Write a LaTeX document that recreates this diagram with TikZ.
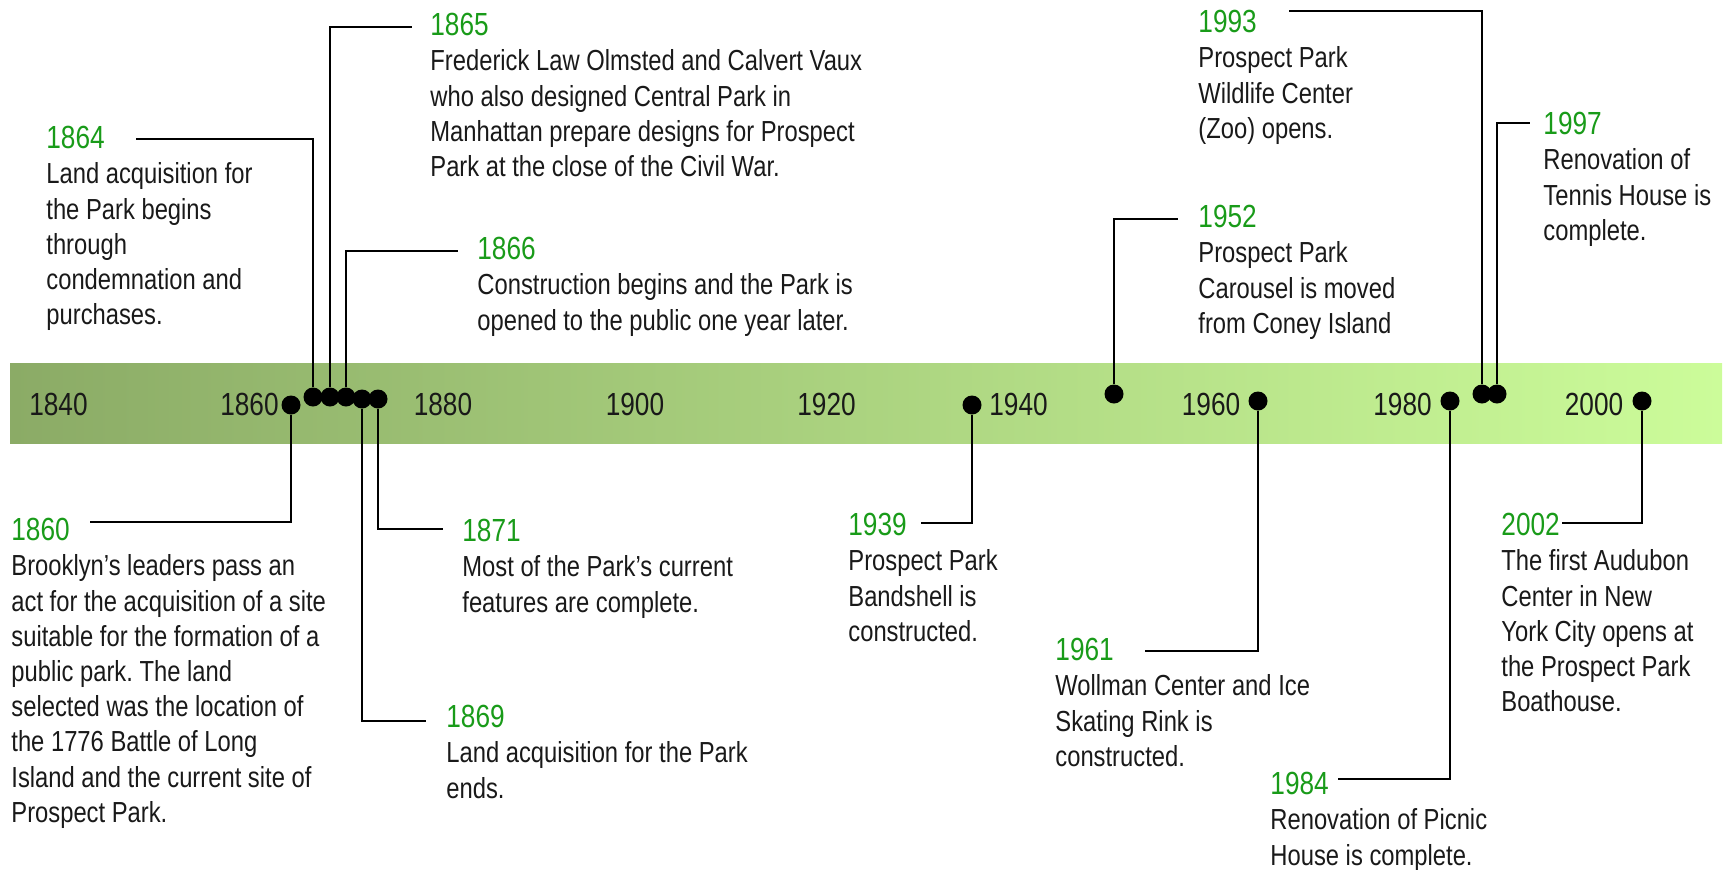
\documentclass[tikz,border=0pt]{standalone}
\usepackage{fontspec}
\setmainfont[FakeStretch=0.82]{Liberation Sans}
\frenchspacing
\definecolor{yeargreen}{RGB}{25,155,25}
\definecolor{bandleft}{RGB}{139,171,102}
\definecolor{bandright}{RGB}{204,252,154}
\definecolor{ink}{RGB}{25,25,25}
\newcommand{\evyear}[1]{{\color{yeargreen}\fontsize{16}{17.6}\selectfont #1}}
\tikzset{%
  dot/.style    = {circle, fill=black, inner sep=0pt, minimum size=9.5pt},%
  leader/.style = {draw=black, line width=0.85pt},%
  decade/.style = {font=\fontsize{16}{17.6}\selectfont, text=ink, inner sep=0pt},%
  event/.style  = {anchor=north west, align=left, inner sep=0pt, text=ink,%
                   font=\fontsize{14.5}{17.6}\selectfont}%
}

\begin{document}
\begin{tikzpicture}[x=0.5pt,y=-0.5pt]
\useasboundingbox (0,0) rectangle (1730,869);
% band
\shade[left color=bandleft, right color=bandright] (10,363) rectangle (1722,443);
\foreach \yy/\xx in {1840/58.5,1860/249.5,1880/443,1900/635,1920/826.5,1940/1018.5,1960/1211,1980/1402.5,2000/1594}
  \node[decade] (y\yy) at (\xx,404.5) {\yy};
% events
\node[event] (t1860) at (11,518) {\evyear{1860}\\Brooklyn’s leaders pass an\\act for the acquisition of a site\\suitable for the formation of a\\public park. The land\\selected was the location of\\the 1776 Battle of Long\\Island and the current site of\\Prospect Park.};
\node[event] (t1864) at (46,126) {\evyear{1864}\\Land acquisition for\\the Park begins\\through\\condemnation and\\purchases.};
\node[event] (t1865) at (430,13) {\evyear{1865}\\Frederick Law Olmsted and Calvert Vaux\\who also designed Central Park in\\Manhattan prepare designs for Prospect\\Park at the close of the Civil War.};
\node[event] (t1866) at (477,237) {\evyear{1866}\\Construction begins and the Park is\\opened to the public one year later.};
\node[event] (t1869) at (446,705) {\evyear{1869}\\Land acquisition for the Park\\ends.};
\node[event] (t1871) at (462,519) {\evyear{1871}\\Most of the Park’s current\\features are complete.};
\node[event] (t1939) at (848,513) {\evyear{1939}\\Prospect Park\\Bandshell is\\constructed.};
\node[event] (t1952) at (1198,205) {\evyear{1952}\\Prospect Park\\Carousel is moved\\from Coney Island};
\node[event] (t1961) at (1055,638) {\evyear{1961}\\Wollman Center and Ice\\Skating Rink is\\constructed.};
\node[event] (t1984) at (1270,772) {\evyear{1984}\\Renovation of Picnic\\House is complete.};
\node[event] (t1993) at (1198,10) {\evyear{1993}\\Prospect Park\\Wildlife Center\\(Zoo) opens.};
\node[event] (t1997) at (1543,112) {\evyear{1997}\\Renovation of\\Tennis House is\\complete.};
\node[event] (t2002) at (1501,513) {\evyear{2002}\\The first Audubon\\Center in New\\York City opens at\\the Prospect Park\\Boathouse.};
% leader ends
\coordinate (e1860) at (90,522);
\coordinate (e1864) at (136,139);
\coordinate (e1865) at (412,27);
\coordinate (e1866) at (458,251);
\coordinate (e1869) at (426,721);
\coordinate (e1871) at (443,529);
\coordinate (e1939) at (921,523);
\coordinate (e1952) at (1178,219);
\coordinate (e1961) at (1145,651);
\coordinate (e1984) at (1338,779);
\coordinate (e1993) at (1289,11);
\coordinate (e1997) at (1530,123);
\coordinate (e2002) at (1562,523);
% dots
\foreach \yy/\xx/\hh in {1860/291/405,1864/313/397,1865/330/397,1866/346/397,1869/362/399,1871/378/399,
  1939/972/405,1952/1114/394,1961/1258/401,1984/1450/401,1993/1482/394,1997/1497/394,2002/1642/401}
  \node[dot] (d\yy) at (\xx,\hh) {};
\foreach \yy in {1860,1864,1865,1866,1869,1871,1939,1952,1961,1984,1993,1997,2002}
  \draw[leader] (d\yy) |- (e\yy);
\end{tikzpicture}
\end{document}
